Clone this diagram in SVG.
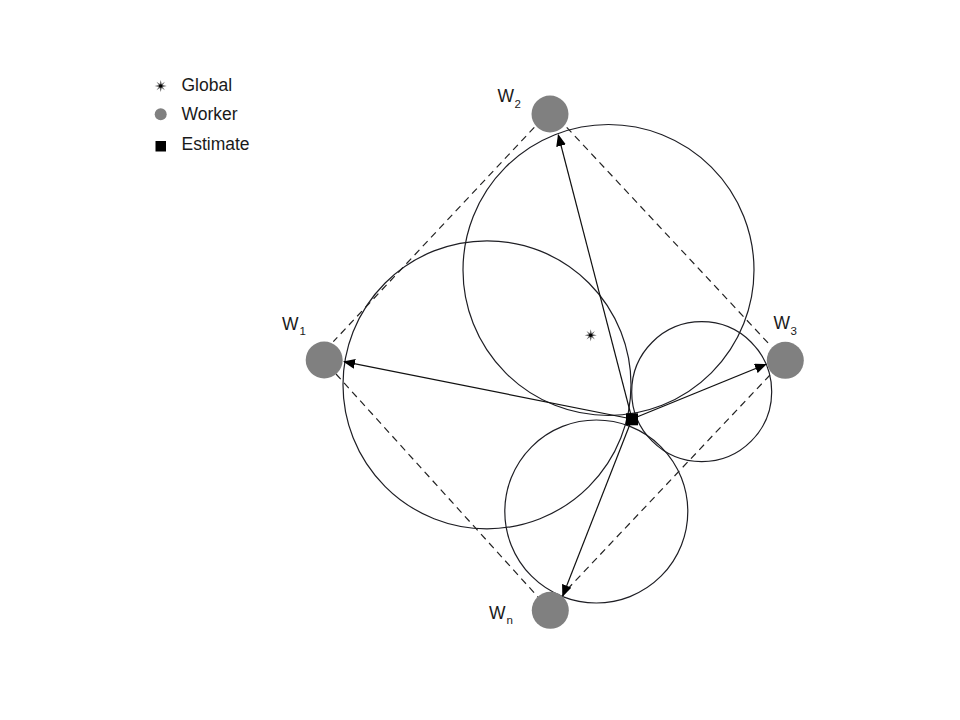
<svg xmlns="http://www.w3.org/2000/svg" width="960" height="720" viewBox="0 0 960 720">
<style>
.txt{font-family:"Liberation Sans",Arial,sans-serif;fill:#1a1a1a}
.lbl{font-size:17.5px}
.sub{font-size:11.5px}
.circ{fill:none;stroke:#1e1e24;stroke-width:1.2}
.dash{fill:none;stroke:#222;stroke-width:1.2;stroke-dasharray:7 5}
.arr{fill:none;stroke:#111;stroke-width:1.2;marker-end:url(#ah)}
.worker{fill:#808080}
</style>
<defs>
<marker id="ah" markerWidth="12" markerHeight="10" refX="11" refY="5" orient="auto" markerUnits="userSpaceOnUse">
<path d="M0,0 L12,5 L0,10 Z" fill="#000"/>
</marker>
<g id="starsym">
<path d="M0,-6 L1,-2 L4.2,-4.2 L2,-1 L6,0 L2,1 L4.2,4.2 L1,2 L0,6 L-1,2 L-4.2,4.2 L-2,1 L-6,0 L-2,-1 L-4.2,-4.2 L-1,-2 Z" fill="#333" fill-opacity="0.75"/>
<circle r="1.8" fill="#000"/>
</g>
</defs>
<rect width="960" height="720" fill="#fff"/>

<g id="legend">
<use href="#starsym" x="160.7" y="86"/>
<text class="txt lbl" x="181.5" y="91">Global</text>
<circle class="worker" cx="160.7" cy="114.3" r="6"/>
<text class="txt lbl" x="181.5" y="119.5">Worker</text>
<rect x="155.5" y="141" width="10.5" height="10.5" fill="#000"/>
<text class="txt lbl" x="181.5" y="150">Estimate</text>
</g>

<g id="circles">
<circle class="circ" cx="608.5" cy="270" r="145.5"/>
<circle class="circ" cx="487" cy="384.8" r="144"/>
<circle class="circ" cx="701.7" cy="391.7" r="70"/>
<circle class="circ" cx="596.3" cy="511.5" r="91.5"/>
</g>

<g id="connectors">
<line class="dash" x1="534.3" y1="127.3" x2="333.3" y2="341.7"/>
<line class="dash" x1="566.7" y1="127.3" x2="770" y2="345"/>
<line class="dash" x1="770" y1="375" x2="566.7" y2="590"/>
<line class="dash" x1="336" y1="374" x2="538" y2="597"/>
<line class="arr" x1="632" y1="419" x2="558.3" y2="135"/>
<line class="arr" x1="632" y1="419" x2="344" y2="361.7"/>
<line class="arr" x1="632" y1="419" x2="766" y2="364.3"/>
<line class="arr" x1="632" y1="419" x2="562.7" y2="596"/>
</g>

<g id="global">
<use href="#starsym" x="590.7" y="335.3"/>
</g>

<g id="estimate">
<rect x="626" y="413.3" width="12" height="12" fill="#000"/>
</g>

<g id="w1">
<circle class="worker" cx="324.2" cy="360" r="18.5"/>
<text class="txt lbl" x="282" y="329.5">W</text>
<text class="txt sub" x="299.5" y="335">1</text>
</g>
<g id="w2">
<circle class="worker" cx="550" cy="114" r="18.5"/>
<text class="txt lbl" x="497.5" y="101.5">W</text>
<text class="txt sub" x="514.5" y="107.5">2</text>
</g>
<g id="w3">
<circle class="worker" cx="785.3" cy="360.3" r="18.5"/>
<text class="txt lbl" x="773.5" y="328.5">W</text>
<text class="txt sub" x="790.5" y="335">3</text>
</g>
<g id="wn">
<circle class="worker" cx="550.3" cy="610.3" r="18.5"/>
<text class="txt lbl" x="489" y="618.5">W</text>
<text class="txt sub" x="506.5" y="624">n</text>
</g>
</svg>
